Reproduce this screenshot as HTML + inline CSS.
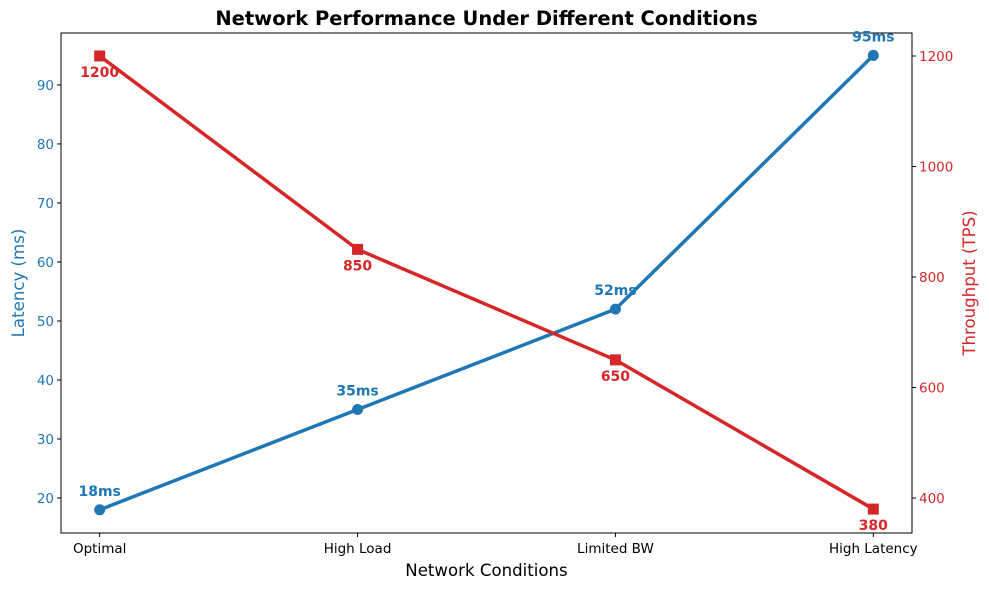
<!DOCTYPE html>
<html><head><meta charset="utf-8"><style>
body{margin:0;background:#fff;font-family:"Liberation Sans","DejaVu Sans",sans-serif}
svg text{font-family:"DejaVu Sans","Liberation Sans",sans-serif}
</style></head><body>
<svg id="chart" width="989" height="590" xmlns="http://www.w3.org/2000/svg"></svg>
<script>
const categories=["Optimal","High Load","Limited BW","High Latency"];
const latency=[18,35,52,95];
const throughput=[1200,850,650,380];
const leftTicks=[20,30,40,50,60,70,80,90];
const rightTicks=[400,600,800,1000,1200];
const L=61,R=912,T=33,B=533;
const BLUE="#1f77b4",RED="#d62728";
function xs(i){return L+(i+0.15)*(R-L)/3.3;}
function yl(v){return B-(v-14.07)*(B-T)/(98.8-14.07);}
function yr(v){return B-(v-336.7)*(B-T)/(1241.6-336.7);}
const svg=document.getElementById('chart');
const NS="http://www.w3.org/2000/svg";
function mk(tag,attrs,parent){const e=document.createElementNS(NS,tag);for(const k in attrs)e.setAttribute(k,attrs[k]);(parent||svg).appendChild(e);return e;}
function txt(s,attrs){const e=mk('text',attrs);e.textContent=s;return e;}
const frame=mk('rect',{x:L,y:T,width:R-L,height:B-T,fill:'none',stroke:'#000','stroke-width':1});


categories.forEach((c,i)=>{
 const x=xs(i);
 mk('line',{x1:x,x2:x,y1:B,y2:B+4,stroke:'#000'});
 const t=txt(c,{x:x,y:B+20,'text-anchor':'middle','font-size':13.5,fill:'#000'});
 
 
});
leftTicks.forEach(v=>{
 const y=yl(v);
 mk('line',{x1:L-4,x2:L,y1:y,y2:y,stroke:'#000'});
 const t=txt(v,{x:L-7,y:y+5,'text-anchor':'end','font-size':13.5,fill:BLUE});
 
 
});
rightTicks.forEach(v=>{
 const y=yr(v);
 mk('line',{x1:R,x2:R+4,y1:y,y2:y,stroke:'#000'});
 const t=txt(v,{x:R+7,y:y+5,'text-anchor':'start','font-size':13.5,fill:RED});
 
 
});
let e=txt('Network Performance Under Different Conditions',{x:(L+R)/2,y:25,'text-anchor':'middle','font-size':19.5,'font-weight':'bold'});


e=txt('Network Conditions',{x:(L+R)/2,y:576,'text-anchor':'middle','font-size':16.6});


e=txt('Latency (ms)',{x:0,y:0,'text-anchor':'middle','font-size':16.6,fill:BLUE,transform:`translate(24,${(T+B)/2}) rotate(-90)`});


e=txt('Throughput (TPS)',{x:0,y:0,'text-anchor':'middle','font-size':16.6,fill:RED,transform:`translate(975,${(T+B)/2}) rotate(-90)`});


e=mk('polyline',{points:latency.map((v,i)=>xs(i)+','+yl(v)).join(' '),fill:'none',stroke:BLUE,'stroke-width':3.5});


latency.forEach((v,i)=>{
 const c=mk('circle',{cx:xs(i),cy:yl(v),r:5.5,fill:BLUE});
 
 
 const t=txt(v+'ms',{x:xs(i),y:yl(v)-14,'text-anchor':'middle','font-size':14,'font-weight':'bold',fill:BLUE});
 
 
});
e=mk('polyline',{points:throughput.map((v,i)=>xs(i)+','+yr(v)).join(' '),fill:'none',stroke:RED,'stroke-width':3.5});


throughput.forEach((v,i)=>{
 const s=mk('rect',{x:xs(i)-5.5,y:yr(v)-5.5,width:11,height:11,fill:RED});
 
 
 const t=txt(v,{x:xs(i),y:yr(v)+21,'text-anchor':'middle','font-size':14,'font-weight':'bold',fill:RED});
 
 
});
</script>
</body></html>
